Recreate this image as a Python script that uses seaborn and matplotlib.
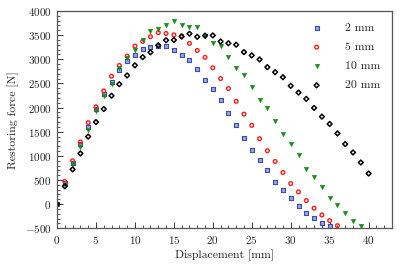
import numpy as np
import pandas as pd
import matplotlib
matplotlib.use("Agg")
import matplotlib.pyplot as plt
from matplotlib.ticker import MultipleLocator
import seaborn as sns

# Restoring force [N], one value per mm of displacement
force_2mm = [0, 430, 860, 1245, 1605, 1975, 2290, 2535, 2775, 2960, 3085, 3220,
             3250, 3280, 3270, 3190, 3085, 2975, 2790, 2580, 2395, 2150, 1880,
             1645, 1380, 1127, 919, 697, 468, 302, 123, -30, -176, -280, -384, -452]
force_5mm = [0, 470, 898, 1287, 1688, 2014, 2345, 2650, 2872, 3065, 3272, 3370,
             3468, 3551, 3535, 3505, 3485, 3329, 3183, 3040, 2824, 2600, 2394,
             2130, 1865, 1632, 1355, 1106, 884, 655, 427, 254, 73, -84, -224,
             -342, -446]
force_10mm = [0, 390, 830, 1190, 1536, 1922, 2240, 2480, 2822, 3025, 3202, 3390,
              3580, 3625, 3700, 3793, 3718, 3665, 3665, 3490, 3344, 3273, 3045,
              2810, 2685, 2421, 2147, 1993, 1723, 1445, 1251, 1008, 732, 560,
              352, 123, -10, -176, -342, -446]
force_20mm = [0, 370, 720, 1050, 1400, 1700, 1970, 2245, 2485, 2665, 2875, 3045,
              3145, 3290, 3395, 3400, 3470, 3530, 3465, 3490, 3495, 3368, 3332,
              3302, 3149, 3080, 2997, 2837, 2733, 2629, 2450, 2311, 2180, 1993,
              1812, 1661, 1465, 1245, 1071, 863, 634]

labels = ["2 mm", "5 mm", "10 mm", "20 mm"]
series = [force_2mm, force_5mm, force_10mm, force_20mm]

# marker styles per series
styles = {
    "2 mm": dict(marker="s", s=6, facecolor="#9aa6e0", edgecolor="#3a4cb0", linewidth=0.8),
    "5 mm": dict(marker="o", s=7, facecolor="none", edgecolor="#ff1a1a", linewidth=1.0),
    "10 mm": dict(marker="v", s=9, facecolor="#1a8c1a", edgecolor="#1a8c1a", linewidth=0.5),
    "20 mm": dict(marker="D", s=6, facecolor="none", edgecolor="black", linewidth=1.1),
}

frames = []
for lab, vals in zip(labels, series):
    frames.append(pd.DataFrame({"disp": np.arange(len(vals)), "force": vals, "series": lab}))
df = pd.concat(frames, ignore_index=True)

sns.set_style("ticks")
plt.rcParams["font.family"] = "serif"
plt.rcParams["font.serif"] = ["cmr10"]
plt.rcParams["mathtext.fontset"] = "cm"
plt.rcParams["axes.formatter.use_mathtext"] = True
plt.rcParams["axes.unicode_minus"] = True

fig = plt.figure(figsize=(4.03, 2.69), dpi=100)
ax = fig.add_axes([0.1414, 0.1513, 0.8313, 0.8078])

for lab in labels:
    sub = df[df["series"] == lab]
    sns.scatterplot(data=sub, x="disp", y="force", ax=ax, label=lab, **styles[lab])

ax.set_xlim(0, 43)
ax.set_ylim(-500, 4000)
ax.xaxis.set_major_locator(MultipleLocator(5))
ax.xaxis.set_minor_locator(MultipleLocator(1))
ax.yaxis.set_major_locator(MultipleLocator(500))
ax.yaxis.set_minor_locator(MultipleLocator(100))
ax.tick_params(which="major", direction="in", length=4, width=0.7, labelsize=8,
               colors="#333333", labelcolor="#222222", pad=4)
ax.tick_params(which="minor", direction="in", length=2, width=0.6, colors="#333333")
for sp in ax.spines.values():
    sp.set_color("#555555")
    sp.set_linewidth(0.9)

ax.set_xlabel("Displacement [mm]", fontsize=8.5, color="#222222", labelpad=3)
ax.set_ylabel("Restoring force [N]", fontsize=8.5, color="#222222", labelpad=4)

ax.legend(loc="upper right", frameon=False, fontsize=8.5, labelspacing=0.75,
          handletextpad=1.4, borderaxespad=0.6, markerscale=1.0)

fig.savefig("out.png", dpi=100)
